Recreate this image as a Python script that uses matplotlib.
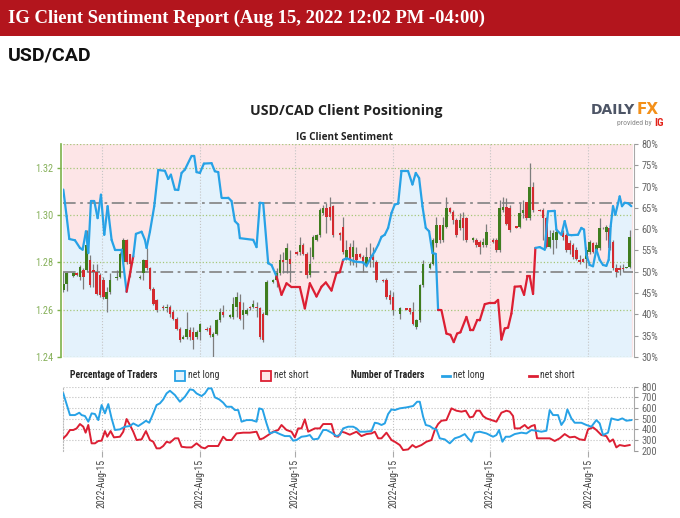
import matplotlib
matplotlib.use("Agg")
import matplotlib.pyplot as plt
import numpy as np
from matplotlib import font_manager as fm
from matplotlib.collections import LineCollection
from matplotlib.lines import Line2D
from matplotlib.patches import Rectangle

# pick the narrowest sans family that is installed
_names = {f.name for f in fm.fontManager.ttflist}
_narrow = [n for n in ['Liberation Sans Narrow', 'Roboto Condensed', 'Open Sans Condensed',
                       'Arial Narrow', 'DejaVu Sans Condensed'] if n in _names]
_dv_cond = any(f.name == 'DejaVu Sans' and 'condensed' in str(f.stretch)
               for f in fm.fontManager.ttflist)
if _narrow:
    NARROW = [_narrow[0], 'DejaVu Sans']
    STRETCH = 'normal'
    FS = 1.0
elif _dv_cond:
    NARROW = ['DejaVu Sans']
    STRETCH = 'condensed'
    FS = 0.95
else:
    NARROW = ['Roboto', 'DejaVu Sans']
    STRETCH = 'normal'
    FS = 0.88
plt.rcParams['font.family'] = NARROW
plt.rcParams['font.stretch'] = STRETCH

# -----------------------------
# Text
# -----------------------------
report_title = "IG Client Sentiment Report (Aug 15, 2022 12:02 PM -04:00)"
pair_name = "USD/CAD"
chart_title = "USD/CAD Client Positioning"
sub_title = "IG Client Sentiment"

# -----------------------------
# Price candles (time index, OHLC)
# -----------------------------
candle_t = [0, 1, 3, 4, 5, 6, 7, 8, 9, 10, 11, 12, 13, 14, 16, 17, 18, 19, 20,
            23, 24, 25, 26, 27, 28, 30, 31, 32, 33, 34, 35, 36, 37, 38, 39, 40, 41,
            43, 44, 45, 46, 47, 48, 50, 51, 52, 53, 54, 55, 56, 57, 58, 59, 60, 61,
            63, 64, 65, 66, 67, 68, 70, 71, 72, 73, 74, 75, 76, 77, 78, 79, 80, 81,
            83, 84, 85, 86, 87, 88, 89, 90, 91, 92, 93, 94, 96, 97, 98, 99, 101,
            103, 104, 105, 106, 107, 108, 110, 111, 112, 113, 114, 115, 116, 117,
            118, 119, 120, 121, 123, 124, 125, 126, 127, 129, 130, 131, 132, 133,
            134, 136, 137, 138, 139, 140, 141, 143, 144, 145, 146, 147, 148, 150,
            151, 152, 153, 154, 155, 156, 157, 158, 159, 160, 161, 162, 163, 164,
            165, 166, 167, 168, 169, 170]
c_open = [1.2682, 1.2710, 1.2744, 1.2754, 1.2739, 1.2767, 1.2767, 1.2809, 1.2767, 1.2760,
          1.2746, 1.2725, 1.2647, 1.2675, 1.2732, 1.2739, 1.2802, 1.2894, 1.2837,
          1.2732, 1.2753, 1.2809, 1.2774, 1.2689, 1.2640, 1.2612, 1.2605, 1.2612,
          1.2590, 1.2562, 1.2520, 1.2478, 1.2485, 1.2513, 1.2506, 1.2485, 1.2506,
          1.2520, 1.2523, 1.2485, 1.2499, 1.2555, 1.2590, 1.2569, 1.2569, 1.2612,
          1.2633, 1.2576, 1.2583, 1.2612, 1.2612, 1.2612, 1.2605, 1.2583, 1.2576,
          1.2717, 1.2725, 1.2753, 1.2809, 1.2809, 1.2816, 1.2844, 1.2844, 1.2873,
          1.2837, 1.2746, 1.2823, 1.2894, 1.2915, 1.3007, 1.3028, 1.3035, 1.3038,
          1.2922, 1.2950, 1.2816, 1.2866, 1.2823, 1.2837, 1.2837, 1.2823, 1.2795,
          1.2823, 1.2823, 1.2802, 1.2725, 1.2725, 1.2661, 1.2654, 1.2583,
          1.2605, 1.2605, 1.2590, 1.2527, 1.2555, 1.2703, 1.2774, 1.2795, 1.2880,
          1.2957, 1.2894, 1.2950, 1.3028, 1.3014, 1.2978, 1.2943, 1.2986, 1.2986,
          1.2894, 1.2894, 1.2887, 1.2873, 1.2873, 1.2894, 1.2894, 1.2852, 1.3021,
          1.3035, 1.3028, 1.2953, 1.2950, 1.3007, 1.3056, 1.2986, 1.3120, 1.3021,
          1.3021, 1.2986, 1.2866, 1.2894, 1.2894, 1.2922, 1.2915, 1.2880, 1.2873,
          1.2852, 1.2809, 1.2816, 1.2816, 1.2844, 1.2880, 1.2852, 1.2859, 1.2943,
          1.2929, 1.2943, 1.2887, 1.2774, 1.2774, 1.2774, 1.2777, 1.2781]
c_high = [1.2760, 1.2760, 1.2760, 1.2758, 1.2788, 1.2774, 1.2936, 1.2830, 1.2795, 1.2795,
          1.2753, 1.2739, 1.2696, 1.2753, 1.2767, 1.2844, 1.2901, 1.2897, 1.2837,
          1.2745, 1.2816, 1.2859, 1.2781, 1.2696, 1.2647, 1.2619, 1.2626, 1.2619,
          1.2598, 1.2569, 1.2527, 1.2492, 1.2590, 1.2527, 1.2527, 1.2515, 1.2545,
          1.2525, 1.2534, 1.2506, 1.2562, 1.2605, 1.2619, 1.2580, 1.2654, 1.2675,
          1.2668, 1.2633, 1.2605, 1.2615, 1.2640, 1.2633, 1.2612, 1.2590, 1.2725,
          1.2730, 1.2774, 1.2837, 1.2844, 1.2880, 1.2852, 1.2850, 1.2908, 1.2880,
          1.2844, 1.2866, 1.2915, 1.2920, 1.3028, 1.3042, 1.3049, 1.3077, 1.3042,
          1.2929, 1.2993, 1.2894, 1.2880, 1.2894, 1.2866, 1.2840, 1.2830, 1.2866,
          1.2880, 1.2866, 1.2809, 1.2728, 1.2732, 1.2682, 1.2675, 1.2612,
          1.2608, 1.2608, 1.2633, 1.2562, 1.2710, 1.2809, 1.2800, 1.2901, 1.2993,
          1.2957, 1.2993, 1.3077, 1.3035, 1.3021, 1.2986, 1.3007, 1.3014, 1.2993,
          1.2908, 1.2901, 1.2894, 1.2901, 1.2964, 1.2901, 1.2901, 1.3063, 1.3077,
          1.3070, 1.3042, 1.2955, 1.3049, 1.3063, 1.3056, 1.3218, 1.3141, 1.3024,
          1.3028, 1.2993, 1.2936, 1.2936, 1.2936, 1.2936, 1.2922, 1.2894, 1.2880,
          1.2866, 1.2830, 1.2818, 1.2866, 1.2894, 1.2885, 1.2887, 1.2986, 1.2950,
          1.2957, 1.2950, 1.2894, 1.2795, 1.2788, 1.2795, 1.2782, 1.2936]
c_low = [1.2675, 1.2680, 1.2740, 1.2742, 1.2725, 1.2689, 1.2760, 1.2696, 1.2696, 1.2661,
         1.2655, 1.2647, 1.2590, 1.2668, 1.2725, 1.2732, 1.2795, 1.2795, 1.2739,
         1.2728, 1.2725, 1.2767, 1.2682, 1.2619, 1.2590, 1.2598, 1.2590, 1.2569,
         1.2555, 1.2513, 1.2463, 1.2475, 1.2478, 1.2471, 1.2435, 1.2478, 1.2471,
         1.2510, 1.2485, 1.2400, 1.2492, 1.2548, 1.2569, 1.2565, 1.2562, 1.2569,
         1.2555, 1.2520, 1.2576, 1.2600, 1.2605, 1.2569, 1.2478, 1.2463, 1.2576,
         1.2712, 1.2696, 1.2746, 1.2753, 1.2753, 1.2717, 1.2832, 1.2830, 1.2830,
         1.2732, 1.2739, 1.2816, 1.2890, 1.2908, 1.3000, 1.2922, 1.2978, 1.2908,
         1.2894, 1.2837, 1.2809, 1.2788, 1.2788, 1.2781, 1.2820, 1.2760, 1.2781,
         1.2781, 1.2781, 1.2717, 1.2718, 1.2647, 1.2626, 1.2576, 1.2562,
         1.2598, 1.2583, 1.2534, 1.2520, 1.2548, 1.2696, 1.2770, 1.2788, 1.2866,
         1.2880, 1.2887, 1.2943, 1.3010, 1.2964, 1.2908, 1.2936, 1.2894, 1.2887,
         1.2887, 1.2866, 1.2837, 1.2866, 1.2866, 1.2880, 1.2844, 1.2844, 1.3014,
         1.2957, 1.2929, 1.2945, 1.2943, 1.2986, 1.2978, 1.2978, 1.3014, 1.3015,
         1.2894, 1.2859, 1.2859, 1.2837, 1.2859, 1.2894, 1.2844, 1.2837, 1.2816,
         1.2809, 1.2795, 1.2800, 1.2774, 1.2837, 1.2840, 1.2844, 1.2852, 1.2940,
         1.2894, 1.2852, 1.2767, 1.2739, 1.2746, 1.2760, 1.2775, 1.2774]
c_close = [1.2710, 1.2753, 1.2755, 1.2748, 1.2781, 1.2739, 1.2873, 1.2703, 1.2760, 1.2668,
           1.2661, 1.2654, 1.2675, 1.2725, 1.2739, 1.2837, 1.2894, 1.2802, 1.2795,
           1.2739, 1.2809, 1.2774, 1.2689, 1.2626, 1.2598, 1.2605, 1.2612, 1.2583,
           1.2562, 1.2520, 1.2471, 1.2485, 1.2520, 1.2485, 1.2471, 1.2506, 1.2541,
           1.2515, 1.2492, 1.2499, 1.2555, 1.2590, 1.2576, 1.2576, 1.2626, 1.2654,
           1.2562, 1.2598, 1.2598, 1.2605, 1.2626, 1.2605, 1.2485, 1.2471, 1.2717,
           1.2725, 1.2753, 1.2809, 1.2802, 1.2859, 1.2795, 1.2837, 1.2873, 1.2837,
           1.2746, 1.2795, 1.2908, 1.2915, 1.3021, 1.3028, 1.2993, 1.2993, 1.2915,
           1.2915, 1.2844, 1.2852, 1.2816, 1.2866, 1.2809, 1.2823, 1.2802, 1.2823,
           1.2809, 1.2809, 1.2725, 1.2720, 1.2654, 1.2640, 1.2598, 1.2605,
           1.2600, 1.2590, 1.2541, 1.2555, 1.2703, 1.2795, 1.2795, 1.2894, 1.2957,
           1.2894, 1.2957, 1.3028, 1.3014, 1.2978, 1.2915, 1.2978, 1.2943, 1.2894,
           1.2901, 1.2873, 1.2866, 1.2887, 1.2929, 1.2887, 1.2852, 1.3028, 1.3035,
           1.2964, 1.2936, 1.2947, 1.3007, 1.3021, 1.2986, 1.3120, 1.3021, 1.3018,
           1.2986, 1.2866, 1.2908, 1.2922, 1.2929, 1.2908, 1.2852, 1.2852, 1.2823,
           1.2816, 1.2802, 1.2802, 1.2852, 1.2887, 1.2844, 1.2873, 1.2943, 1.2947,
           1.2950, 1.2859, 1.2774, 1.2760, 1.2767, 1.2770, 1.2780, 1.2908]

# -----------------------------
# Net long % of clients (time index, percent)
# -----------------------------
sent_t = [0, 1.0, 1.8, 3.5, 5.0, 5.8, 6.8, 7.5, 8.3, 9.3, 10.3, 11.3, 12.3, 13.3,
          14.5, 15.5, 17.5, 19.0, 21.0, 21.8, 23.5, 24.5, 25.0, 26.0, 27.3, 28.5,
          30.5, 31.5, 32.3, 33.5, 34.5, 35.5, 36.5, 38.5, 39.3, 40.0, 41.0, 42.2,
          44.5, 45.5, 46.5, 47.5, 49.5, 50.5, 51.5, 52.5, 53.0, 57.0, 58.0, 59.0,
          60.0, 61.5, 62.5, 64.0, 65.5, 67.0, 68.5, 71.0, 72.5, 74.0, 76.0, 77.5,
          78.8, 80.5, 82.0, 83.0, 84.0, 85.0, 87.5, 90.0, 91.0, 92.5, 93.5, 94.5,
          95.5, 96.5, 97.5, 98.5, 99.5, 100.5, 101.5, 103.5, 104.8, 105.8, 106.8,
          107.8, 108.8, 109.8, 110.8, 111.8, 112.5, 113.5, 115.0, 116.2, 117.2,
          118.2, 119.2, 121.0, 122.2, 123.0, 124.2, 125.0, 126.5, 128.0, 129.5,
          130.5, 131.5, 132.5, 133.5, 134.5, 135.5, 137.3, 138.3, 139.3, 140.0,
          141.0, 141.7, 143.0, 144.5, 145.5, 147.5, 148.0, 149.5, 150.5, 151.5,
          152.5, 154.5, 155.5, 156.3, 157.0, 158.0, 159.0, 160.0, 161.0, 162.0,
          163.0, 163.7, 164.3, 165.0, 165.7, 167.0, 167.7, 168.5, 169.5, 170.5]
sent_long = [69.3, 63.0, 57.7, 57.4, 55.6, 55.2, 59.5, 54.4, 66.6, 66.6, 62.6, 68.1,
             58.7, 65.4, 57.5, 55.2, 55.2, 45.3, 53.6, 58.9, 59.4, 57.5, 55.6, 59.4,
             65.4, 73.9, 73.7, 71.8, 72.8, 69.3, 69.2, 73.2, 74.0, 77.2, 77.2, 73.4,
             73.2, 75.4, 75.5, 73.6, 73.4, 67.4, 67.4, 66.6, 61.9, 61.1, 57.9, 57.5,
             55.8, 66.2, 66.1, 52.0, 51.6, 48.9, 44.6, 47.3, 46.4, 46.4, 41.4, 47.3,
             44.2, 46.5, 47.5, 45.6, 49.7, 49.9, 52.8, 53.2, 52.4, 52.2, 51.4, 53.6,
             54.8, 56.3, 58.2, 58.7, 60.3, 63.8, 65.8, 66.0, 73.6, 73.6, 70.5, 73.2,
             72.0, 65.4, 60.3, 59.5, 54.4, 54.2, 41.0, 41.0, 35.5, 35.2, 33.5, 35.5,
             35.8, 39.4, 36.3, 36.3, 38.6, 38.6, 42.4, 42.7, 42.7, 43.4, 34.1, 36.7,
             36.9, 40.2, 46.5, 46.6, 44.6, 48.9, 48.9, 44.8, 55.6, 55.8, 55.2, 64.2,
             64.3, 59.9, 58.7, 61.9, 58.7, 58.6, 58.7, 60.3, 59.9, 54.0, 51.6, 51.3,
             55.2, 52.8, 51.6, 51.4, 52.8, 60.7, 65.4, 63.4, 67.7, 65.4, 66.2, 66.1,
             65.4]
ref_levels = [50.0, 66.2]

# -----------------------------
# Number of traders
# -----------------------------
long_t = [0, 2, 3.5, 4.8, 5.5, 6.5, 7.5, 8.5, 9.5, 10.5, 11.5, 12.5, 13.5, 14.5,
          15.5, 17, 18.5, 20, 21, 22.5, 24, 24.8, 25.8, 27, 28, 29, 30, 31, 32,
          33.5, 35, 36.5, 38, 39, 40, 41.5, 42.5, 43.5, 44.5, 45.5, 46.8, 48, 49,
          50.5, 51.5, 52.5, 53.5, 55, 56.5, 58, 58.8, 59.8, 61, 62, 63.5, 65, 66.5,
          68, 69, 70, 71.5, 73, 74, 75, 76.5, 78, 79, 80.5, 82, 83, 84, 85.5, 87,
          88, 89, 90.5, 92.5, 93.5, 94.5, 95.5, 96.5, 97.5, 98.5, 99.5, 101, 103,
          105, 106.2, 107, 108, 108.8, 110, 111, 112, 113, 114.5, 116, 117.5, 119,
          120.5, 121.5, 122.5, 123.5, 125, 127, 129, 130, 130.8, 131.8, 132.8, 134,
          135.5, 137.5, 139, 140.5, 142, 143.5, 145, 146, 147, 148.5, 149.5, 150.5,
          151.3, 152.5, 153.5, 155.5, 157, 158.5, 160, 161, 162, 163.5, 164.5,
          165.5, 166.5, 167.8, 169, 170.5]
long_count = [737, 534, 534, 556, 534, 525, 472, 550, 544, 487, 628, 550, 637, 503,
              394, 400, 425, 431, 456, 431, 462, 481, 462, 550, 628, 644, 681, 737,
              762, 722, 659, 706, 775, 769, 737, 712, 737, 784, 784, 700, 681, 650,
              612, 612, 581, 581, 472, 487, 487, 472, 597, 587, 456, 362, 378, 356,
              337, 337, 294, 300, 331, 337, 347, 306, 312, 394, 394, 369, 337, 347,
              409, 425, 425, 409, 378, 378, 384, 462, 456, 441, 456, 544, 587, 581,
              597, 606, 619, 659, 659, 519, 441, 431, 409, 400, 316, 306, 269, 316,
              331, 356, 316, 284, 369, 378, 362, 331, 347, 394, 284, 331, 331, 356,
              369, 362, 394, 387, 378, 387, 581, 534, 534, 441, 487, 587, 503, 462,
              462, 441, 425, 487, 456, 347, 369, 503, 494, 487, 503, 481, 487]
short_t = [0, 1, 2, 3, 4, 5, 6, 6.7, 7.5, 8.5, 9.5, 10.5, 11.5, 12.5, 13.2, 14.2,
           15.2, 17, 18, 19, 20, 21, 22, 23.5, 24.8, 26, 27, 28, 29, 30, 31, 32,
           33.5, 34.5, 35.5, 37, 38.5, 40, 41.5, 42.5, 43.5, 45, 46.5, 48, 49,
           50.5, 52, 54, 56, 58, 59, 60, 61.5, 63, 64.5, 65.5, 67, 68.5, 69.5, 70.5,
           71.5, 72.5, 73.5, 74.5, 75.5, 77, 78, 80.5, 81.5, 82.5, 83.5, 84.5, 86,
           88, 89.5, 91, 92.5, 93.5, 94.5, 95.5, 97, 98.5, 99.5, 101, 102, 103.5,
           104.8, 105.8, 107.5, 109, 110.5, 111.5, 112.5, 113.5, 115, 116.5, 118,
           119.5, 120.8, 122, 123, 124, 125, 126, 127, 128.5, 130, 131.5, 133, 134,
           135, 135.5, 137, 138.5, 139.5, 140.5, 141.5, 142.2, 144, 146, 147.5, 149,
           150.5, 152, 153.5, 155, 156.5, 157.5, 159, 160, 161.5, 163, 164, 165,
           166, 167, 168.5, 170]
short_count = [316, 347, 394, 394, 409, 450, 425, 369, 441, 269, 269, 291, 294, 384,
               331, 384, 325, 331, 378, 497, 441, 378, 300, 306, 384, 300, 284, 222,
               222, 244, 284, 275, 316, 316, 237, 231, 231, 269, 231, 222, 244, 244,
               244, 331, 300, 300, 362, 369, 369, 378, 306, 316, 347, 378, 394, 441,
               394, 378, 325, 409, 409, 494, 378, 394, 409, 409, 450, 450, 337, 331,
               378, 370, 350, 378, 337, 356, 362, 378, 316, 316, 369, 300, 284, 253,
               206, 212, 253, 231, 253, 284, 300, 394, 450, 481, 487, 597, 575, 566,
               575, 512, 519, 575, 575, 525, 503, 487, 472, 556, 575, 566, 525, 409,
               409, 441, 409, 431, 441, 316, 316, 316, 291, 316, 356, 325, 331, 306,
               300, 400, 419, 394, 347, 337, 284, 306, 231, 253, 244, 253]

# x ticks (all labelled the same day in the source chart)
tick_pos = [11.5, 41, 69.5, 99, 128, 157.5]
tick_labels = ["2022-Aug-15"] * len(tick_pos)

price_ticks = [1.24, 1.26, 1.28, 1.30, 1.32]
pct_ticks = list(range(30, 81, 5))
count_ticks = list(range(200, 801, 100))

# -----------------------------
# Colours
# -----------------------------
BLUE = '#27a2e6'
RED = '#dc1f33'
PINK_BG = '#fde5e7'
BLUE_BG = '#e4f2fc'
CANDLE_UP = '#3f7d1f'
CANDLE_DN = '#d42a2f'
WICK = '#7d7d7d'
AX_GREEN = '#7db24a'
GRAY_TXT = '#666666'

W, H = 680, 518


def fx(px):
    return px / W


def fy(py):
    return 1 - py / H


fig = plt.figure(figsize=(6.8, 5.18), dpi=100)
fig.patch.set_facecolor('white')

# -----------------------------
# Header
# -----------------------------
fig.add_artist(Rectangle((0, fy(36)), 1, 36 / H, transform=fig.transFigure,
                         facecolor='#b3151d', edgecolor='none', zorder=0))
fig.text(fx(8), fy(18), report_title, color='white', fontsize=13.4, fontweight='bold',
         family=['Liberation Serif', 'DejaVu Serif'], stretch='normal',
         va='center', ha='left')
fig.text(fx(8), fy(55), pair_name, fontsize=14, va='center', ha='left',
         color='#111111', fontweight='bold', family=['Roboto', 'DejaVu Sans'],
         stretch='normal')
fig.text(fx(346), fy(111), chart_title, fontsize=10.2, va='center', ha='center',
         color='#222222', fontweight='bold', family=['Open Sans', 'DejaVu Sans'],
         stretch='normal')
fig.text(fx(344), fy(137), sub_title, fontsize=7.2, va='center', ha='center',
         color='#222222', fontweight='bold', family=['Open Sans', 'DejaVu Sans'],
         stretch='normal')

# DailyFX logo
fig.text(fx(635), fy(110), "DAILY", fontsize=10, va='center', ha='right',
         color='#4d5566', fontweight='bold', family=['DejaVu Sans'], stretch='normal')
fig.text(fx(637), fy(110), "FX", fontsize=11, va='center', ha='left',
         color='#f39019', fontweight='bold', family=['DejaVu Sans'], stretch='normal')
fig.text(fx(652), fy(123), "provided by", fontsize=5.5, va='center', ha='right',
         color='#888888')
fig.text(fx(654), fy(123), "IG", fontsize=8, va='center', ha='left',
         color='#e2231a', fontweight='bold')

# -----------------------------
# Main panel
# -----------------------------
x_lim = (0, 171)
ax_pct = fig.add_axes([fx(63.3), fy(357), (633 - 63.3) / W, (357 - 144) / H])
ax_pct.set_facecolor(PINK_BG)
ax_pct.fill_between(sent_t, 30, sent_long, color=BLUE_BG, lw=0, zorder=1)
for lv in ref_levels:
    ax_pct.axhline(lv, color='#8a8a8a', lw=1.3, ls=(0, (7, 2.5, 1.5, 2.5)), zorder=2)
for tp in tick_pos:
    ax_pct.axvline(tp, color='#c4c4c4', lw=0.8, ls=':', zorder=2)
ax_pct.set_xlim(*x_lim)
ax_pct.set_ylim(30, 80)
ax_pct.set_xticks([])

ax_price = ax_pct.twinx()
ax_price.set_ylim(1.24, 1.33)
ax_price.set_xlim(*x_lim)

# percentage axis on the right (twinx moved it to the left)
ax_pct.yaxis.tick_right()
ax_pct.set_yticks(pct_ticks)
ax_pct.set_yticklabels([f"{v}%" for v in pct_ticks])
ax_pct.tick_params(axis='y', labelcolor=GRAY_TXT, color='#9a9a9a', labelsize=7.5 * FS,
                   length=3, width=0.8, pad=2)
for s in ['left', 'top', 'bottom']:
    ax_pct.spines[s].set_visible(False)
ax_pct.spines['right'].set_color('#a8a8a8')
ax_pct.spines['right'].set_position(('outward', 1))

# price axis on the left
ax_price.yaxis.tick_left()
ax_price.set_yticks(price_ticks)
ax_price.set_yticklabels([f"{v:.2f}" for v in price_ticks])
ax_price.tick_params(axis='y', labelcolor='#86b05a', color=AX_GREEN, labelsize=7.5 * FS,
                     length=3, width=1, pad=2)
for s in ['right', 'top', 'bottom']:
    ax_price.spines[s].set_visible(False)
ax_price.spines['left'].set_color(AX_GREEN)
ax_price.spines['left'].set_linewidth(1.2)
ax_price.spines['left'].set_position(('outward', 2))
for p in price_ticks + [1.33]:
    ax_price.axhline(p, color='#a6c77a', lw=0.9, ls=':', zorder=0.5)

# candles
o = np.array(c_open)
c = np.array(c_close)
up = c >= o
body_lo = np.minimum(o, c)
body_h = np.maximum(np.abs(c - o), 0.0004)
ax_price.vlines(candle_t, c_low, c_high, color=WICK, lw=0.9, zorder=3)
ax_price.bar(candle_t, body_h, bottom=body_lo, width=0.75,
             color=np.where(up, CANDLE_UP, CANDLE_DN), lw=0, zorder=4)

# sentiment line, segment coloured by majority side at its start
pts = np.column_stack([sent_t, sent_long])
segs = np.stack([pts[:-1], pts[1:]], axis=1)
seg_cols = [BLUE if v >= 50 else RED for v in sent_long[:-1]]
lc = LineCollection(segs, colors=seg_cols, linewidths=1.6, zorder=5,
                    transform=ax_pct.transData, capstyle='round',
                    joinstyle='round')
ax_price.add_collection(lc, autolim=False)
ax_price.set_xticks([])

# -----------------------------
# Legend row
# -----------------------------
ly = fy(375.5)
LFS = 7 * FS
fig.text(fx(70), ly, "Percentage of Traders", fontsize=LFS, fontweight='bold',
         va='center', ha='left', color='#222222')
fig.add_artist(Line2D([fx(180.3)], [ly], marker='s', ms=6.5, mfc=BLUE_BG, mec=BLUE,
                      mew=1.3, transform=fig.transFigure))
fig.text(fx(188), ly, "net long", fontsize=LFS, va='center', ha='left', color='#333333')
fig.add_artist(Line2D([fx(266.3)], [ly], marker='s', ms=6.5, mfc=PINK_BG, mec=RED,
                      mew=1.3, transform=fig.transFigure))
fig.text(fx(274), ly, "net short", fontsize=LFS, va='center', ha='left', color='#333333')
fig.text(fx(350.7), ly, "Number of Traders", fontsize=LFS, fontweight='bold',
         va='center', ha='left', color='#222222')
fig.add_artist(Line2D([fx(441.7), fx(450)], [ly, ly], color=BLUE, lw=2,
                      transform=fig.transFigure))
fig.text(fx(453), ly, "net long", fontsize=LFS, va='center', ha='left', color='#333333')
fig.add_artist(Line2D([fx(529.3), fx(537.3)], [ly, ly], color=RED, lw=2,
                      transform=fig.transFigure))
fig.text(fx(540), ly, "net short", fontsize=LFS, va='center', ha='left', color='#333333')

# -----------------------------
# Number of traders panel
# -----------------------------
ax_cnt = fig.add_axes([fx(63.3), fy(450.7), (633 - 63.3) / W, (450.7 - 386.7) / H])
ax_cnt.set_facecolor('white')
for v in count_ticks:
    ax_cnt.axhline(v, color='#c0c0c0', lw=0.8, ls=':', zorder=0.5)
for tp in tick_pos:
    ax_cnt.axvline(tp, color='#c4c4c4', lw=0.8, ls=':', zorder=0.5)
ax_cnt.plot(short_t, short_count, color=RED, lw=1.4, zorder=3)
ax_cnt.plot(long_t, long_count, color=BLUE, lw=1.4, zorder=4)
ax_cnt.set_xlim(*x_lim)
ax_cnt.set_ylim(200, 800)
ax_cnt.set_yticks(count_ticks)
ax_cnt.yaxis.tick_right()
ax_cnt.tick_params(axis='y', labelcolor=GRAY_TXT, color='#9a9a9a', labelsize=7.5 * FS,
                   length=3, width=0.8, pad=2)
ax_cnt.set_xticks(tick_pos)
ax_cnt.set_xticklabels(tick_labels, rotation=90, fontsize=7 * FS, color='#444444')
ax_cnt.tick_params(axis='x', length=4, color='#aaaaaa', pad=2)
for s in ['top', 'bottom']:
    ax_cnt.spines[s].set_visible(False)
ax_cnt.spines['left'].set_color('#bbbbbb')
ax_cnt.spines['left'].set_linestyle(':')
ax_cnt.spines['right'].set_color('#a8a8a8')
ax_cnt.spines['right'].set_position(('outward', 1))

fig.savefig("out.png", dpi=100, facecolor='white')
